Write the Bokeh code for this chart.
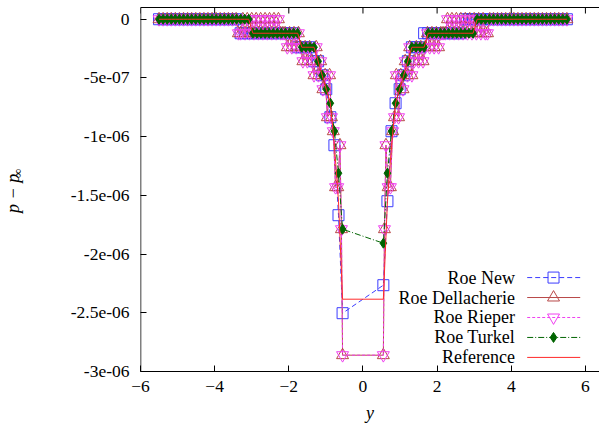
import math

from bokeh.core.properties import value
from bokeh.embed import file_html
from bokeh.layouts import row
from bokeh.models import CustomJSTickFormatter, FixedTicker, Range1d
from bokeh.plotting import figure
from bokeh.resources import INLINE

# Pressure is stored in single precision, so p - p_inf comes in whole
# multiples of the float32 spacing near p_inf.
ULP = 1.1920929e-07

# |y| of the cut samples, from the body surface outward (same on both sides)
r_grid = [0.55, 0.66, 0.77, 0.88, 0.99, 1.10, 1.21, 1.32, 1.43, 1.54,
          1.65, 1.76, 1.87, 1.98, 2.09, 2.20, 2.31, 2.42, 2.53, 2.64,
          2.75, 2.86, 2.97, 3.08, 3.19, 3.30, 3.41, 3.52, 3.63, 3.74,
          3.85, 3.96, 4.07, 4.18, 4.29, 4.40, 4.51, 4.62, 4.73, 4.84,
          4.95, 5.06, 5.17, 5.28, 5.39, 5.50]

# -(p - p_inf) / ULP on r_grid, listed from the surface outward
new_left = [21, 14, 9, 7, 5, 4, 3, 3, 2, 2, 2, 2,
            1, 1, 1, 1, 1, 1, 1, 1, 1, 1, 1, 1, 1, 1,
            0, 0, 0, 0, 0, 0, 0, 0, 0, 0, 0, 0, 0, 0, 0, 0, 0, 0, 0, 0]
new_right = [19, 13, 8, 6, 5, 4, 3, 2, 2, 2,
             1, 1, 1, 1, 1, 1, 1, 1, 1, 1,
             0, 0, 0, 0, 0, 0, 0, 0, 0, 0, 0, 0, 0, 0, 0, 0, 0, 0, 0, 0,
             0, 0, 0, 0, 0, 0]
turkel_left = [15, 11, 8, 6, 5, 4, 3, 2, 2, 2, 2,
               1, 1, 1, 1, 1, 1, 1, 1, 1, 1, 1, 1,
               0, 0, 0, 0, 0, 0, 0, 0, 0, 0, 0, 0, 0, 0, 0, 0, 0, 0, 0, 0, 0, 0, 0]
turkel_right = [16, 11, 8, 6, 5, 4, 3, 2, 2, 2, 2,
                1, 1, 1, 1, 1, 1, 1, 1, 1, 1, 1, 1,
                0, 0, 0, 0, 0, 0, 0, 0, 0, 0, 0, 0, 0, 0, 0, 0, 0, 0, 0, 0, 0, 0, 0]
ref_left = [20, 13, 9, 6, 5, 4, 3, 2, 2, 2, 2,
            1, 1, 1, 1, 1, 1, 1, 1, 1, 1, 1, 1,
            0, 0, 0, 0, 0, 0, 0, 0, 0, 0, 0, 0, 0, 0, 0, 0, 0, 0, 0, 0, 0, 0, 0]
ref_right = [20, 13, 9, 6, 5, 4, 3, 2, 2, 2, 2,
             1, 1, 1, 1, 1, 1, 1, 1, 1, 1, 1, 1,
             0, 0, 0, 0, 0, 0, 0, 0, 0, 0, 0, 0, 0, 0, 0, 0, 0, 0, 0, 0, 0, 0, 0]

# Dellacherie / Rieper runs sample the cut at their own (irregular) points
r_fix = [0.55, 0.58, 0.62, 0.68, 0.74, 0.80, 0.85, 0.90, 0.96, 1.02,
         1.08, 1.14, 1.20, 1.26, 1.32, 1.38, 1.44, 1.50, 1.56, 1.62,
         1.68, 1.74, 1.80, 1.86, 1.92, 1.98, 2.04, 2.10, 2.16, 2.22,
         2.28, 2.34, 2.40, 2.46, 2.52, 2.58, 2.64, 2.70, 2.76, 2.82,
         2.88, 2.94, 3.00, 3.06, 3.12, 3.18, 3.24, 3.30, 3.36, 3.42,
         3.52, 3.63, 3.74, 3.85, 3.96, 4.07, 4.18, 4.29, 4.40, 4.51,
         4.62, 4.73, 4.84, 4.95, 5.06, 5.17, 5.28, 5.39, 5.50]
della_lv = [24, 15, 9, 12, 12, 8, 7, 4, 7, 4,
            5, 3, 4, 2, 4, 3, 2, 3, 2, 3,
            2, 1, 2, 1, 2, 1, 2, 1, 1, 1,
            0, 1, 0, 1, 0, 1, 0, 1, 0, 1,
            0, 1, 0, 1, 0, 1, 0, 1, 1, 0,
            0, 0, 0, 0, 0, 0, 0, 0, 0, 0,
            0, 0, 0, 0, 0, 0, 0, 0, 0]
rieper_lv = [24, 15, 9, 12, 12, 8, 7, 4, 7, 4,
             5, 3, 4, 2, 4, 3, 2, 3, 2, 3,
             2, 1, 2, 1, 2, 1, 2, 1, 1, 1,
             0, 1, 0, 1, 0, 1, 0, 1, 0, 1,
             0, 1, 0, 1, 0, 1, 0, 1, 1, 0,
             0, 0, 0, 0, 0, 0, 0, 0, 0, 0,
             0, 0, 0, 0, 0, 0, 0, 0, 0]

x_ticks = [-6, -4, -2, 0, 2, 4, 6]
y_ticks = [-3e-06, -2.5e-06, -2e-06, -1.5e-06, -1e-06, -5e-07, 0.0]
y_box_top = 1e-07                  # upper edge of the plotting box

series_names = ["Roe New", "Roe Dellacherie", "Roe Rieper", "Roe Turkel", "Reference"]


def both_sides(r, left, right):
    xs = [-v for v in reversed(r)] + list(r)
    ys = [-ULP * n for n in reversed(left)] + [-ULP * n for n in right]
    return xs, ys


SERIF = "Liberation Serif"
H = 429
TITLE_W = 30
X_LO, X_HI = -6, 6.38
Y_LO = -3e-06
PX = (y_box_top - Y_LO) / 364      # one pixel in y data units
FRAME_H = 371                      # frame runs from the canvas top to the x axis
Y_HI = Y_LO + FRAME_H * PX

# ---- main plot -----------------------------------------------------------
p = figure(width=599 - TITLE_W, height=H, output_backend="svg", toolbar_location=None,
           x_range=Range1d(X_LO, X_HI), y_range=Range1d(Y_LO, Y_HI),
           min_border_left=140 - TITLE_W, min_border_right=0, min_border_top=0,
           min_border_bottom=H - FRAME_H, outline_line_color=None,
           background_fill_color="white", border_fill_color="white")
p.grid.visible = False

for ax in (p.xaxis[0], p.yaxis[0]):
    ax.major_tick_in = 6
    ax.major_tick_out = 0
    ax.minor_tick_line_color = None
    ax.axis_line_color = "black"
    ax.major_tick_line_color = "black"
    ax.major_label_text_font = SERIF
    ax.major_label_text_font_size = "17.5px"
    ax.major_label_text_color = "black"

p.xaxis.ticker = FixedTicker(ticks=x_ticks)
p.xaxis.major_label_standoff = 9
p.xaxis.axis_label = "y"
p.xaxis.axis_label_text_font = SERIF
p.xaxis.axis_label_text_font_style = "italic"
p.xaxis.axis_label_text_font_size = "18px"
p.xaxis.axis_label_text_color = "black"
p.xaxis.axis_label_standoff = 8

p.yaxis.ticker = FixedTicker(ticks=y_ticks)
p.yaxis.major_label_standoff = 11
p.yaxis.formatter = CustomJSTickFormatter(code="""
    if (Math.abs(tick) < 1e-15) { return "0"; }
    const parts = tick.toExponential().split("e");
    let e = parseInt(parts[1]);
    const sgn = e < 0 ? "-" : "+";
    e = Math.abs(e);
    return parts[0] + "e" + sgn + (e < 10 ? "0" + e : "" + e);
""")

# the y axis line should stop at the box top
p.yaxis.axis_line_color = None
p.line([X_LO, X_LO], [Y_LO, y_box_top], line_color="black", line_width=1.5)

# top edge of the box with mirrored x ticks hanging from it
p.line([X_LO, X_HI], [y_box_top, y_box_top], line_color="black", line_width=1.2)
p.multi_line(xs=[[xt, xt] for xt in x_ticks],
             ys=[[y_box_top, y_box_top - 6 * PX] for _ in x_ticks],
             line_color="black", line_width=1)

styles = [
    dict(color="#3c3cff", dash="5 3", marker="square", size=11, fill=None),
    dict(color="#b84848", dash="solid", marker="triangle", size=12, fill=None),
    dict(color="#f040f0", dash="3 2", marker="inverted_triangle", size=12, fill=None),
    dict(color="#006400", dash="6 2 1 2", marker="diamond", size=10, fill="#006400"),
    dict(color="#ff2a2a", dash="solid", marker=None, size=0, fill=None),
]

data = [
    both_sides(r_grid, new_left, new_right),
    both_sides(r_fix, della_lv, della_lv),
    both_sides(r_fix, rieper_lv, rieper_lv),
    both_sides(r_grid, turkel_left, turkel_right),
    both_sides(r_grid, ref_left, ref_right),
]

for (xs, ys), st in zip(data, styles):
    p.line(xs, ys, line_color=st["color"], line_width=1, line_dash=st["dash"])
    if st["marker"]:
        p.scatter(xs, ys, marker=st["marker"], size=st["size"], line_color=st["color"],
                  line_width=1, fill_color=st["fill"])

# key, drawn inside the frame at lower right: label, then line sample with marker
key_rows = [-2.20e-06, -2.37e-06, -2.54e-06, -2.71e-06, -2.88e-06]
for name, yk, st in zip(series_names, key_rows, styles):
    p.text(x=[4.1], y=[yk], text=[name], text_align="right", text_baseline="middle",
           text_font=value(SERIF), text_font_size="18px", text_color="black")
    p.line([4.43, 5.86], [yk, yk], line_color=st["color"], line_width=1,
           line_dash=st["dash"])
    if st["marker"]:
        p.scatter([5.14], [yk], marker=st["marker"], size=st["size"],
                  line_color=st["color"], line_width=1, fill_color=st["fill"])

# ---- narrow strip on the left carrying the rotated y title ---------------
t = figure(width=TITLE_W, height=H, output_backend="svg", toolbar_location=None,
           x_range=Range1d(0, TITLE_W), y_range=Range1d(0, H),
           min_border=0, outline_line_color=None,
           x_axis_location=None, y_axis_location=None,
           background_fill_color="white", border_fill_color="white")
t.grid.visible = False
t.text(x=[12], y=[H - 223], text=["p − p"], angle=math.pi / 2,
       text_align="center", text_baseline="middle", text_font=value(SERIF),
       text_font_style="italic", text_font_size="18px", text_color="black")
t.text(x=[17], y=[H - 200], text=["∞"], angle=math.pi / 2,
       text_align="center", text_baseline="middle", text_font=value(SERIF),
       text_font_size="13px", text_color="black")

open("out.html", "w").write(file_html(row(t, p), INLINE))
